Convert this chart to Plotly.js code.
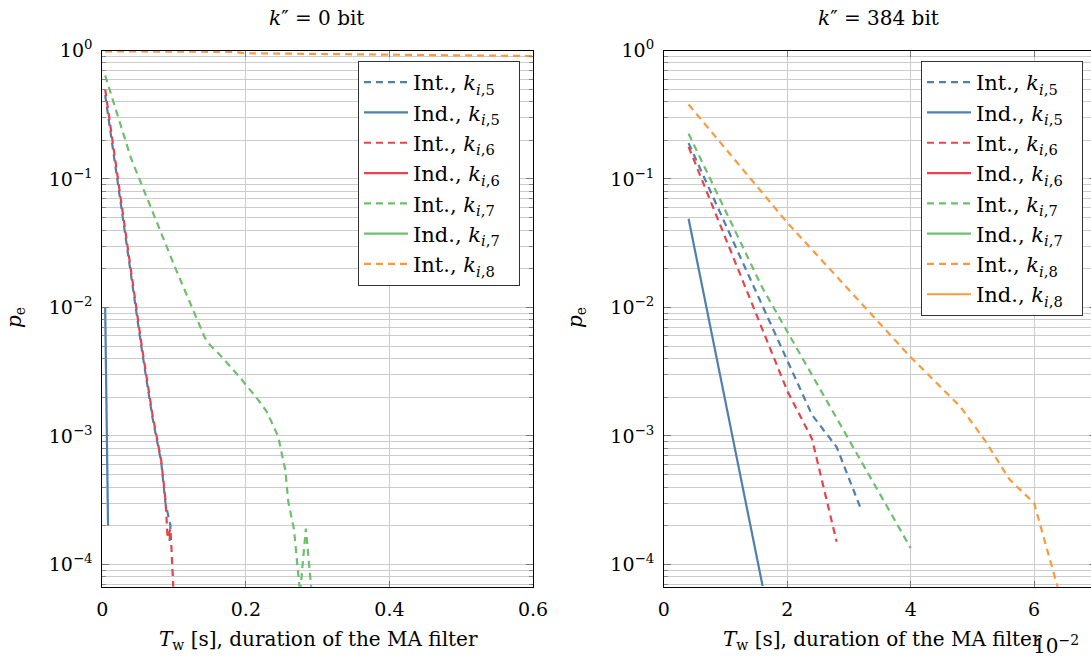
<!DOCTYPE html>
<html><head><meta charset="utf-8">
<script src="https://cdn.plot.ly/plotly-3.0.1.min.js"></script>
<style>html,body{margin:0;padding:0;overflow:hidden;background:#fff}#chart{width:1096px;height:657px}</style>
</head><body><div id="chart"></div>
<script>
// ---------- data: left panel (k'' = 0 bit), x in seconds ----------
const L_int5_x = [0.004, 0.055, 0.07, 0.082, 0.088, 0.095, 0.0935];
const L_int5_y = [0.45, 4.7e-3, 1.38e-3, 6.3e-4, 3.0e-4, 2.0e-4, 1.45e-4];
const L_ind5_x = [0.004, 0.008];
const L_ind5_y = [0.01, 2e-4];
const L_int6_x = [0.004, 0.055, 0.07, 0.082, 0.088, 0.091, 0.095, 0.1];
const L_int6_y = [0.5, 5.0e-3, 1.45e-3, 6.5e-4, 3.2e-4, 1.6e-4, 1.9e-4, 5e-5];
const L_ind6_x = [null];   // no visible curve in the reference
const L_ind6_y = [null];
const L_int7_x = [0.004, 0.04, 0.1, 0.143, 0.15, 0.164, 0.192, 0.215, 0.229, 0.238, 0.245, 0.255, 0.259, 0.267, 0.2755, 0.2836, 0.293];
const L_int7_y = [0.64, 0.145, 0.0214, 5.8e-3, 5.1e-3, 4.27e-3, 2.84e-3, 1.98e-3, 1.55e-3, 1.22e-3, 9.9e-4, 5.4e-4, 3.1e-4, 1.88e-4, 6e-5, 1.9e-4, 5e-5];
const L_ind7_x = [null];
const L_ind7_y = [null];
const L_int8_x = [0.004, 0.18, 0.2, 0.6];
const L_int8_y = [0.985, 0.975, 0.952, 0.905];

// ---------- data: right panel (k'' = 384 bit), x in seconds ----------
const R_int5_x = [0.004, 0.024, 0.028, 0.032];
const R_int5_y = [0.19, 1.46e-3, 8.2e-4, 2.65e-4];
const R_ind5_x = [0.004, 0.016];
const R_ind5_y = [0.049, 6.8e-5];
const R_int6_x = [0.004, 0.020, 0.024, 0.028];
const R_int6_y = [0.178, 2.24e-3, 9.5e-4, 1.5e-4];
const R_ind6_x = [null];
const R_ind6_y = [null];
const R_int7_x = [0.004, 0.016, 0.040];
const R_int7_y = [0.225, 0.0141, 1.34e-4];
const R_ind7_x = [null];
const R_ind7_y = [null];
const R_int8_x = [0.004, 0.02, 0.04, 0.048, 0.052, 0.056, 0.06, 0.064];
const R_int8_y = [0.38, 0.0457, 4.1e-3, 1.7e-3, 9.3e-4, 4.6e-4, 3.0e-4, 6.2e-5];
const R_ind8_x = [null];
const R_ind8_y = [null];

// ---------- labels ----------
const seriesNames = ['Int., <i>k</i><sub><i>i</i>,5</sub>', 'Ind., <i>k</i><sub><i>i</i>,5</sub>',
  'Int., <i>k</i><sub><i>i</i>,6</sub>', 'Ind., <i>k</i><sub><i>i</i>,6</sub>',
  'Int., <i>k</i><sub><i>i</i>,7</sub>', 'Ind., <i>k</i><sub><i>i</i>,7</sub>',
  'Int., <i>k</i><sub><i>i</i>,8</sub>', 'Ind., <i>k</i><sub><i>i</i>,8</sub>'];
const yTickVals = [1e-4, 1e-3, 1e-2, 1e-1, 1];
const yTickText = ['10<sup>−4</sup>', '10<sup>−3</sup>', '10<sup>−2</sup>', '10<sup>−1</sup>', '10<sup>0</sup>'];
const xLeftTickVals = [0, 0.2, 0.4, 0.6];
const xLeftTickText = ['0', '0.2', '0.4', '0.6'];
const xRightTickVals = [0, 0.02, 0.04, 0.06];
const xRightTickText = ['0', '2', '4', '6'];

// ---------- styling ----------
const W = 1096, H = 657;
const FONT = 'DejaVu Serif';
const C = {blue: '#4f7fb0', red: '#e8434b', green: '#6cc06a', orange: '#fb9a3a'};
const DASH = '7px,5px';
const GRID = '#cccccc';

const minorVals = [];
for (let e = -5; e <= -1; e++) for (let d = 2; d <= 9; d++) minorVals.push(d * Math.pow(10, e));

function tr(x, y, name, color, dash, xa, ya, lg) {
  return {x: x, y: y, name: name + '\u00a0\u00a0', type: 'scatter', mode: 'lines', xaxis: xa, yaxis: ya, legend: lg,
          showlegend: true, line: {color: color, width: 2.2, dash: dash}, hoverinfo: 'skip'};
}

const traces = [
  tr(L_int5_x, L_int5_y, seriesNames[0], C.blue, DASH, 'x', 'y', 'legend'),
  tr(L_ind5_x, L_ind5_y, seriesNames[1], C.blue, 'solid', 'x', 'y', 'legend'),
  tr(L_int6_x, L_int6_y, seriesNames[2], C.red, DASH, 'x', 'y', 'legend'),
  tr(L_ind6_x, L_ind6_y, seriesNames[3], C.red, 'solid', 'x', 'y', 'legend'),
  tr(L_int7_x, L_int7_y, seriesNames[4], C.green, DASH, 'x', 'y', 'legend'),
  tr(L_ind7_x, L_ind7_y, seriesNames[5], C.green, 'solid', 'x', 'y', 'legend'),
  tr(L_int8_x, L_int8_y, seriesNames[6], C.orange, DASH, 'x', 'y', 'legend'),

  tr(R_int5_x, R_int5_y, seriesNames[0], C.blue, DASH, 'x2', 'y2', 'legend2'),
  tr(R_ind5_x, R_ind5_y, seriesNames[1], C.blue, 'solid', 'x2', 'y2', 'legend2'),
  tr(R_int6_x, R_int6_y, seriesNames[2], C.red, DASH, 'x2', 'y2', 'legend2'),
  tr(R_ind6_x, R_ind6_y, seriesNames[3], C.red, 'solid', 'x2', 'y2', 'legend2'),
  tr(R_int7_x, R_int7_y, seriesNames[4], C.green, DASH, 'x2', 'y2', 'legend2'),
  tr(R_ind7_x, R_ind7_y, seriesNames[5], C.green, 'solid', 'x2', 'y2', 'legend2'),
  tr(R_int8_x, R_int8_y, seriesNames[6], C.orange, DASH, 'x2', 'y2', 'legend2'),
  tr(R_ind8_x, R_ind8_y, seriesNames[7], C.orange, 'solid', 'x2', 'y2', 'legend2')
];

const tickFont = {family: FONT, size: 19, color: '#000'};
function xax(domain, range, tv, tt, anchor) {
  return {domain: domain, range: range, tickmode: 'array', tickvals: tv, ticktext: tt, anchor: anchor,
          showgrid: true, gridcolor: GRID, gridwidth: 1, zeroline: false,
          showline: true, linecolor: '#000', linewidth: 1, mirror: 'ticks',
          ticks: 'inside', ticklen: 6, tickcolor: '#777', tickfont: tickFont, ticklabelstandoff: 5};
}
function yax(anchor) {
  return {type: 'log', domain: [1 - 586.7 / H, 1 - 50.5 / H], range: [-4.173, 0], anchor: anchor,
          tickmode: 'array', tickvals: yTickVals, ticktext: yTickText,
          showgrid: true, gridcolor: GRID, gridwidth: 1, zeroline: false,
          showline: true, linecolor: '#000', linewidth: 1, mirror: 'ticks',
          ticks: 'inside', ticklen: 7, tickcolor: '#777', tickfont: tickFont, ticklabelstandoff: 5,
          minor: {tickmode: 'array', tickvals: minorVals, ticks: 'inside', ticklen: 4, tickcolor: '#888',
                  showgrid: true, gridcolor: GRID, gridwidth: 1}};
}
function legendCfg(xpx) {
  return {x: xpx / W, y: 1 - 61 / H, xanchor: 'left', yanchor: 'top', bgcolor: '#fff',
          bordercolor: '#333', borderwidth: 1, font: {family: FONT, size: 21, color: '#000'},
          tracegroupgap: 0, itemwidth: 44, traceorder: 'normal'};
}
function ann(text, xpx, ypx, opts) {
  return Object.assign({text: text, x: xpx / W, y: 1 - ypx / H, xref: 'paper', yref: 'paper', showarrow: false,
                        xanchor: 'center', yanchor: 'middle', font: {family: FONT, size: 20, color: '#000'}}, opts || {});
}

const layout = {
  width: W, height: H, margin: {l: 0, r: 0, t: 0, b: 0},
  paper_bgcolor: '#fff', plot_bgcolor: '#fff', font: {family: FONT, size: 20, color: '#000'},
  xaxis: xax([102.3 / W, 533 / W], [0, 0.6], xLeftTickVals, xLeftTickText, 'y'),
  yaxis: yax('x'),
  xaxis2: xax([663.9 / W, 1095.8 / W], [0, 0.07], xRightTickVals, xRightTickText, 'y2'),
  yaxis2: yax('x2'),
  legend: legendCfg(358),
  legend2: legendCfg(921),
  annotations: [
    ann('<i>k</i>″ = 0 bit', 316, 18),
    ann('<i>k</i>″ = 384 bit', 878, 18),
    ann('<i>p</i><sub>e</sub>', 15, 318, {textangle: -90}),
    ann('<i>p</i><sub>e</sub>', 576, 318, {textangle: -90}),
    ann('<i>T</i><sub>w</sub> [s], duration of the MA filter', 318, 640),
    ann('<i>T</i><sub>w</sub> [s], duration of the MA filter', 882, 640),
    ann('10<sup>−2</sup>', 1031, 645, {xanchor: 'left'})
  ]
};

Plotly.newPlot('chart', traces, layout, {staticPlot: true, displayModeBar: false});
</script></body></html>
